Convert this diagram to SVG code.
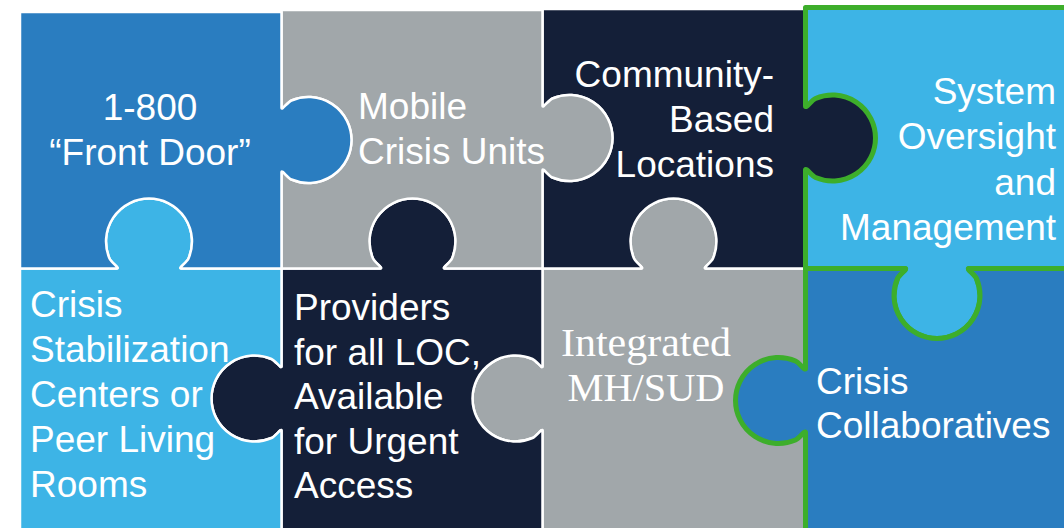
<svg xmlns="http://www.w3.org/2000/svg" width="1064" height="528" viewBox="0 0 1064 528">
<style>
.pc{stroke:#fff;stroke-width:2.5;stroke-linejoin:round}
.hl{stroke:#3DAE2B;stroke-width:5;stroke-linejoin:round}
.t{font-family:"Liberation Sans",Arial,sans-serif;font-size:37px;fill:#fff}
.s{font-family:"Liberation Serif","Times New Roman",serif;font-size:40px;fill:#fff}
.blue{fill:#2A7DC0}.grey{fill:#A1A7AA}.navy{fill:#141F38}.sky{fill:#3DB4E6}
</style>
<rect width="1064" height="528" fill="#fff"/>

<g id="piece-integrated">
<path class="pc grey" d="M542.5,268.5 H641.5 C644.5,268.5 635.5,262.2 634,258.5 A43,43 0 1 1 713,258.5 C711.5,262.2 702.5,268.5 705.5,268.5 H805.5 V368.5 C805.5,371.5 799.2,362.5 795.5,361 A43,43 0 1 0 795.5,440 C799.2,438.5 805.5,429.5 805.5,432.5 V540 H542.5 V430.5 C542.5,427.5 536.2,436.5 532.5,438 A43,43 0 1 1 532.5,359 C536.2,360.5 542.5,369.5 542.5,366.5 Z"/>
<text class="s" text-anchor="middle"><tspan x="646" y="356" textLength="170" lengthAdjust="spacingAndGlyphs">Integrated</tspan><tspan x="646" y="401" textLength="157" lengthAdjust="spacingAndGlyphs">MH/SUD</tspan></text>
</g>

<g id="piece-providers">
<path class="pc navy" d="M281.5,268.5 H380.5 C383.5,268.5 374.5,262.2 373,258.5 A43,43 0 1 1 452,258.5 C450.5,262.2 441.5,268.5 444.5,268.5 H542.5 V366.5 C542.5,369.5 536.2,360.5 532.5,359 A43,43 0 1 0 532.5,438 C536.2,436.5 542.5,427.5 542.5,430.5 V540 H281.5 V430.5 C281.5,427.5 275.2,436.5 271.5,438 A43,43 0 1 1 271.5,359 C275.2,360.5 281.5,369.5 281.5,366.5 Z"/>
<text class="t"><tspan x="294" y="320">Providers</tspan><tspan x="294" y="364.5">for all LOC,</tspan><tspan x="294" y="409">Available</tspan><tspan x="294" y="453.5">for Urgent</tspan><tspan x="294" y="498">Access</tspan></text>
</g>

<g id="piece-stabilization">
<path class="pc sky" d="M20,268.5 H117 C120,268.5 111,262.2 109.5,258.5 A43,43 0 1 1 188.5,258.5 C187,262.2 178,268.5 181,268.5 H281.5 V366.5 C281.5,369.5 275.2,360.5 271.5,359 A43,43 0 1 0 271.5,438 C275.2,436.5 281.5,427.5 281.5,430.5 V540 H20 Z"/>
<text class="t"><tspan x="30" y="317">Crisis</tspan><tspan x="30" y="362">Stabilization</tspan><tspan x="30" y="407">Centers or</tspan><tspan x="30" y="452">Peer Living</tspan><tspan x="30" y="497">Rooms</tspan></text>
</g>

<g id="piece-community">
<path class="pc navy" d="M542.5,9 H805.5 V106 C805.5,109 811.8,100 815.5,98.5 A43,43 0 1 1 815.5,177.5 C811.8,176 805.5,167 805.5,170 V268.5 H705.5 C702.5,268.5 711.5,262.2 713,258.5 A43,43 0 1 0 634,258.5 C635.5,262.2 644.5,268.5 641.5,268.5 H542.5 V170 C542.5,167 548.8,176 552.5,177.5 A43,43 0 1 0 552.5,98.5 C548.8,100 542.5,109 542.5,106 Z"/>
<text class="t" text-anchor="end"><tspan x="774" y="87">Community-</tspan><tspan x="774" y="132">Based</tspan><tspan x="774" y="177">Locations</tspan></text>
</g>

<g id="piece-mobile">
<path class="pc grey" d="M281.5,10 H542.5 V106 C542.5,109 548.8,100 552.5,98.5 A43,43 0 1 1 552.5,177.5 C548.8,176 542.5,167 542.5,170 V268.5 H444.5 C441.5,268.5 450.5,262.2 452,258.5 A43,43 0 1 0 373,258.5 C374.5,262.2 383.5,268.5 380.5,268.5 H281.5 V172 C281.5,169 287.8,178 291.5,179.5 A43,43 0 1 0 291.5,100.5 C287.8,102 281.5,111 281.5,108 Z"/>
<text class="t"><tspan x="358" y="119">Mobile</tspan><tspan x="358" y="164">Crisis Units</tspan></text>
</g>

<g id="piece-front-door">
<path class="pc blue" d="M20,12 H281.5 V108 C281.5,111 287.8,102 291.5,100.5 A43,43 0 1 1 291.5,179.5 C287.8,178 281.5,169 281.5,172 V268.5 H181 C178,268.5 187,262.2 188.5,258.5 A43,43 0 1 0 109.5,258.5 C111,262.2 120,268.5 117,268.5 H20 Z"/>
<text class="t" text-anchor="middle"><tspan x="150" y="120">1-800</tspan><tspan x="150" y="165">“Front Door”</tspan></text>
</g>

<g id="piece-oversight">
<path class="hl sky" d="M805.5,7.5 H1075 V268.5 H969 C966,268.5 975,274.8 976.5,278.5 A43,43 0 1 1 897.5,278.5 C899,274.8 908,268.5 905,268.5 H805.5 V170 C805.5,167 811.8,176 815.5,177.5 A43,43 0 1 0 815.5,98.5 C811.8,100 805.5,109 805.5,106 Z"/>
<text class="t" text-anchor="end"><tspan x="1056" y="104">System</tspan><tspan x="1056" y="149">Oversight</tspan><tspan x="1056" y="194.5">and</tspan><tspan x="1056" y="239.5">Management</tspan></text>
</g>

<g id="piece-collaboratives">
<path class="hl blue" d="M805.5,268.5 H905 C908,268.5 899,274.8 897.5,278.5 A43,43 0 1 0 976.5,278.5 C975,274.8 966,268.5 969,268.5 H1075 V540 H805.5 V432.5 C805.5,429.5 799.2,438.5 795.5,440 A43,43 0 1 1 795.5,361 C799.2,362.5 805.5,371.5 805.5,368.5 Z"/>
<text class="t"><tspan x="816" y="394">Crisis</tspan><tspan x="816" y="438">Collaboratives</tspan></text>
</g>
</svg>
